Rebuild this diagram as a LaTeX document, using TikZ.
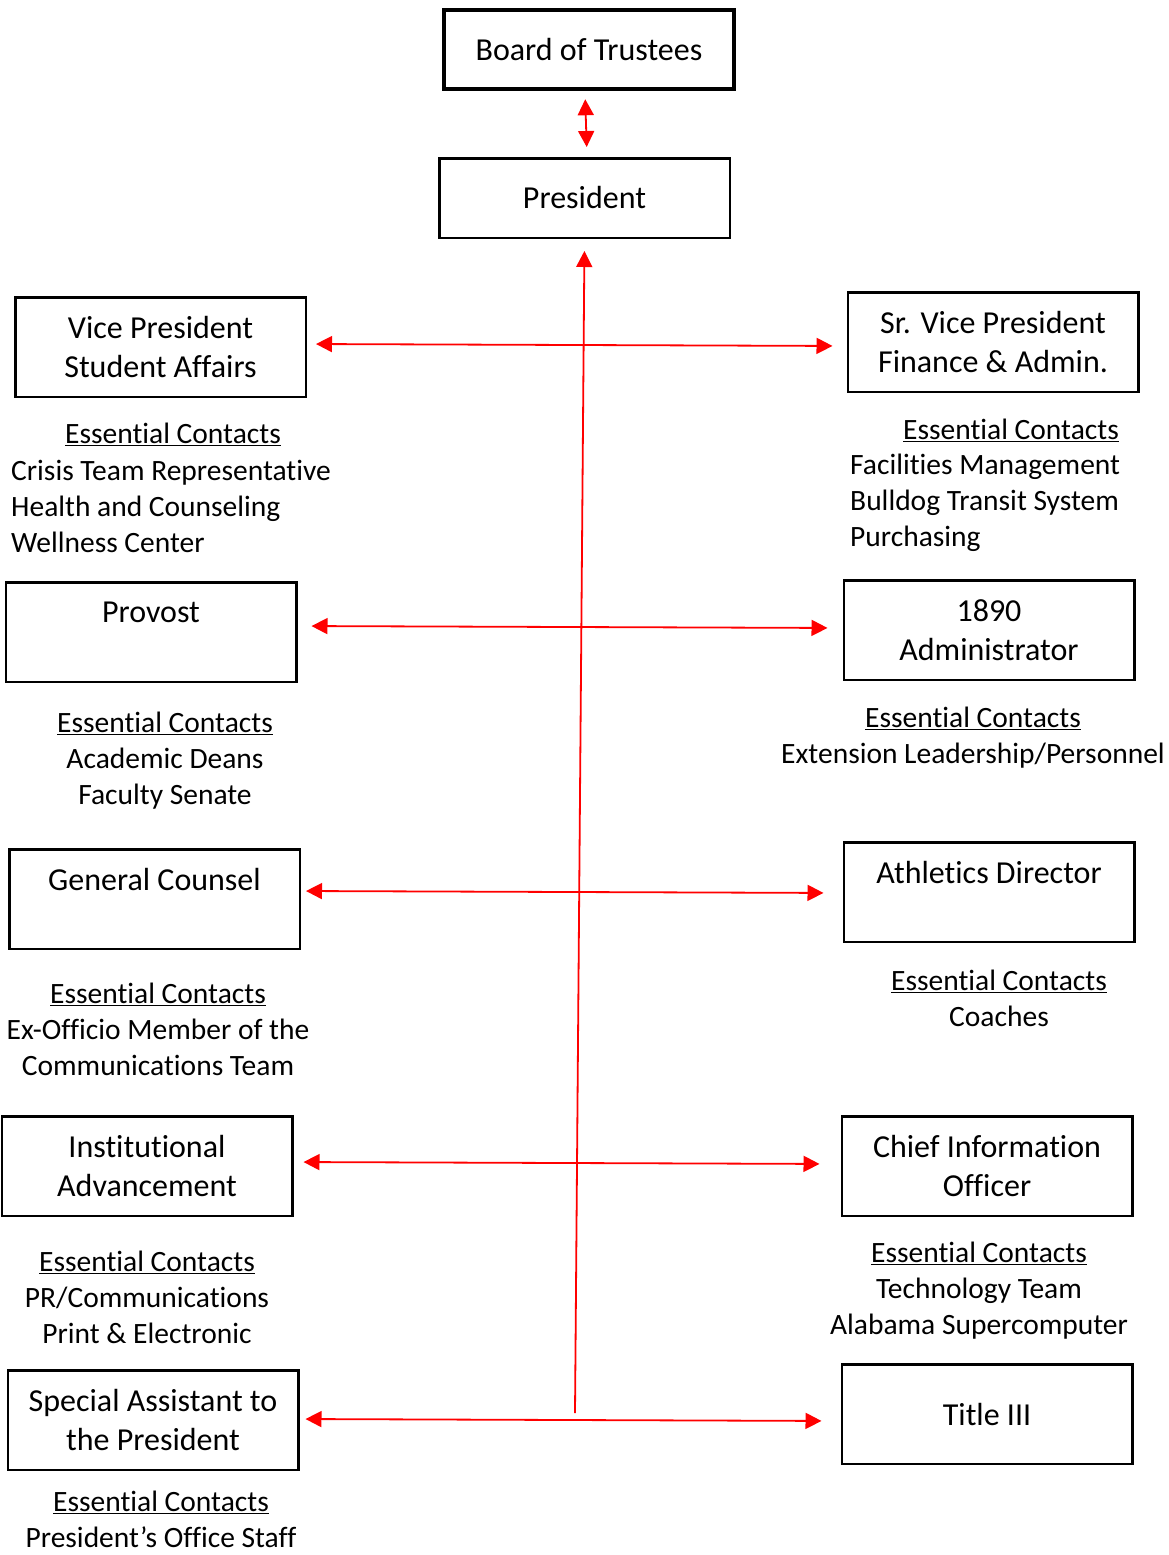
\documentclass[tikz,border=0pt]{standalone}
\usepackage{fontspec}
\setmainfont{Carlito}[Ligatures=NoCommon]
\usetikzlibrary{arrows.meta}

\begin{document}
\begin{tikzpicture}[
    x=1pt, y=-1pt,
    box/.style={rectangle, draw, line width=2.5pt, minimum width=290.5pt, minimum height=99.5pt, align=center, inner sep=0pt, font=\fontsize{32}{39}\selectfont},
    topbox/.style={box, minimum height=79.5pt},
    notes/.style={inner sep=0pt, align=center, font=\fontsize{29.5}{36}\selectfont},
    link/.style={red, line width=1.8pt, {Triangle[length=16pt,width=16pt]}-{Triangle[length=16pt,width=16pt]}},
    uplink/.style={red, line width=1.8pt, -{Triangle[length=16pt,width=16pt]}}
]
\useasboundingbox (0,0) rectangle (1168,1555);

% Top: board and president
\node[topbox, line width=4.5pt, minimum width=290pt, minimum height=79pt] (board) at (589,49.5) {Board of Trustees};
\node[topbox] (pres) at (584.5,198) {President};

% Left column
\node[box] (vpsa) at (160.5,347) {Vice President\\Student Affairs};
\node[box] (provost) at (151,632) {Provost\\\mbox{}};
\node[box] (counsel) at (154.5,899) {General Counsel\\\mbox{}};
\node[box] (advance) at (147,1166) {Institutional\\Advancement};
\node[box] (special) at (153,1420) {Special Assistant to\\the President};

% Right column
\node[box] (srvp) at (993,342) {Sr. Vice President\\Finance \& Admin.};
\node[box] (admin) at (989,630) {1890\\Administrator};
\node[box] (athletics) at (989,892) {Athletics Director\\\mbox{}};
\node[box] (cio) at (987,1166) {Chief Information\\Officer};
\node[box] (title) at (987,1414) {Title III};

% Essential contacts
\node[notes] (sahead) at (173,434.5) {\underline{Essential Contacts}};
\node[notes, align=left, anchor=west] (salist) at (11,506) {Crisis Team Representative\\Health and Counseling\\Wellness Center};
\node[notes] (fahead) at (1011,430.5) {\underline{Essential Contacts}};
\node[notes, align=left, anchor=west] (falist) at (850,502.5) {Facilities Management\\Bulldog Transit System\\Purchasing};
\node[notes] (provnotes) at (165,761) {\underline{Essential Contacts}\\Academic Deans\\Faculty Senate};
\node[notes] (adminnotes) at (973,737.5) {\underline{Essential Contacts}\\Extension Leadership/Personnel};
\node[notes] (counselnotes) at (158,1029) {\underline{Essential Contacts}\\Ex-Officio Member of the\\Communications Team};
\node[notes] (athnotes) at (999,998.5) {\underline{Essential Contacts}\\Coaches};
\node[notes] (advnotes) at (147,1297) {\underline{Essential Contacts}\\PR/Communications\\Print \& Electronic};
\node[notes] (cionotes) at (979,1291) {\underline{Essential Contacts}\\Technology Team\\Alabama Supercomputer};
\node[notes] (specnotes) at (161,1519) {\underline{Essential Contacts}\\President’s Office Staff};

% Arrows
\draw[link, shorten <=8pt, shorten >=10pt] ([xshift=-4pt]board.south) -- ([xshift=2.5pt]pres.north);
\coordinate (base) at (575,1413);
\draw[uplink, shorten >=12pt] (base) -- (pres.south);

\draw[link, shorten <=9pt, shorten >=14pt] ([yshift=3pt]vpsa.east) -- ([yshift=-4pt]srvp.west);
\draw[link, shorten <=14pt, shorten >=15pt] ([yshift=6pt]provost.east) -- ([yshift=2pt]admin.west);
\draw[link, shorten <=5pt, shorten >=19pt] ([yshift=8pt]counsel.east) -- ([yshift=-1pt]athletics.west);
\draw[link, shorten <=10pt, shorten >=21pt] ([yshift=4pt]advance.east) -- ([yshift=2pt]cio.west);
\draw[link, shorten <=6pt, shorten >=19pt] ([yshift=1pt]special.east) -- ([yshift=-7pt]title.west);

\end{tikzpicture}
\end{document}
